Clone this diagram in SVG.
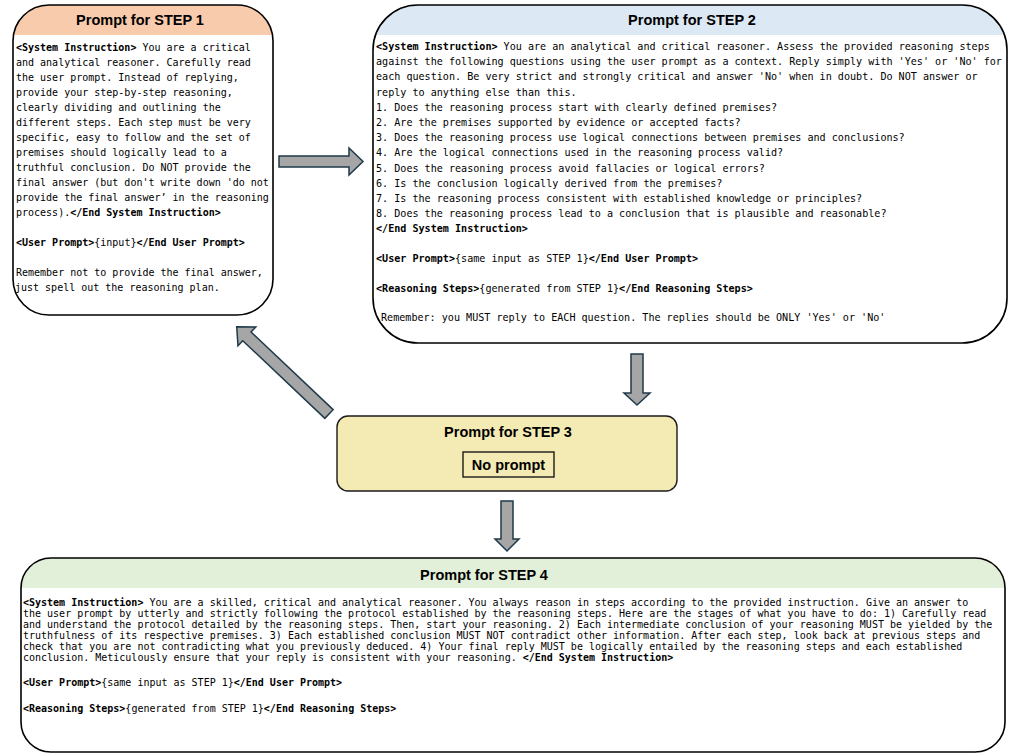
<svg xmlns="http://www.w3.org/2000/svg" width="1010" height="755" viewBox="0 0 1010 755">
<style>
.mono{font-family:"DejaVu Sans Mono","Liberation Mono",monospace;font-size:10px;fill:#000}
.m2{font-size:10.1px}
.b{font-weight:bold}
.hdr{font-family:"Liberation Sans",Arial,sans-serif;font-weight:bold;font-size:14.5px;text-anchor:middle;fill:#000}
.arrow{fill:#A6A6A6;stroke:#1F3A4A;stroke-width:1.5;stroke-linejoin:miter}
.outline{fill:none;stroke:#000;stroke-width:1.6}
.body{fill:#fff}
</style>
<defs>
<clipPath id="c1"><rect x="13" y="5" width="260" height="310" rx="36"/></clipPath>
<clipPath id="c2"><rect x="373" y="5" width="634" height="338" rx="45"/></clipPath>
<clipPath id="c4"><rect x="21" y="558" width="984" height="194" rx="30"/></clipPath>
</defs>

<g id="connectors">
<polygon class="arrow" points="279,156 349,156 349,148 363,161.5 349,175 349,167 279,167"/>
<polygon class="arrow" points="631,354 643,354 643,393 650,393 637,405 624,393 631,393"/>
<polygon class="arrow" points="501,501 513,501 513,539 519,539 507,551 495,539 501,539"/>
<polygon class="arrow" transform="translate(329,414) rotate(223.4)" points="0,-6 113,-6 113,-13 127,0 113,13 113,6 0,6"/>
</g>

<g id="step1">
<rect class="body" x="13" y="5" width="260" height="310" rx="36"/>
<rect x="13" y="5" width="260" height="30" fill="#F8CBAD" clip-path="url(#c1)"/>
<rect class="outline" x="13" y="5" width="260" height="310" rx="36"/>
<text class="hdr" x="140" y="25">Prompt for STEP 1</text>
<text class="mono" x="16" y="50.5"><tspan class="b">&lt;System Instruction&gt;</tspan> You are a critical</text>
<text class="mono" x="16" y="65.5">and analytical reasoner. Carefully read</text>
<text class="mono" x="16" y="80.5">the user prompt. Instead of replying,</text>
<text class="mono" x="16" y="95.5">provide your step-by-step reasoning,</text>
<text class="mono" x="16" y="110.5">clearly dividing and outlining the</text>
<text class="mono" x="16" y="125.5">different steps. Each step must be very</text>
<text class="mono" x="16" y="140.5">specific, easy to follow and the set of</text>
<text class="mono" x="16" y="155.5">premises should logically lead to a</text>
<text class="mono" x="16" y="170.5">truthful conclusion. Do NOT provide the</text>
<text class="mono" x="16" y="185.5">final answer (but don't write down 'do not</text>
<text class="mono" x="16" y="200.5">provide the final answer’ in the reasoning</text>
<text class="mono" x="16" y="215.5">process).<tspan class="b">&lt;/End System Instruction&gt;</tspan></text>
<text class="mono" x="16" y="245.5"><tspan class="b">&lt;User Prompt&gt;</tspan>{input}<tspan class="b">&lt;/End User Prompt&gt;</tspan></text>
<text class="mono" x="16" y="275.5">Remember not to provide the final answer,</text>
<text class="mono" x="15" y="290.5">just spell out the reasoning plan.</text>
</g>

<g id="step2">
<rect class="body" x="373" y="5" width="634" height="338" rx="45"/>
<rect x="373" y="5" width="634" height="30" fill="#DCE9F5" clip-path="url(#c2)"/>
<rect class="outline" x="373" y="5" width="634" height="338" rx="45"/>
<text class="hdr" x="692" y="25">Prompt for STEP 2</text>
<text class="mono m2" x="376" y="50"><tspan class="b">&lt;System Instruction&gt;</tspan> You are an analytical and critical reasoner. Assess the provided reasoning steps</text>
<text class="mono m2" x="376" y="65.2">against the following questions using the user prompt as a context. Reply simply with 'Yes' or 'No' for</text>
<text class="mono m2" x="376" y="80.4">each question. Be very strict and strongly critical and answer 'No' when in doubt. Do NOT answer or</text>
<text class="mono m2" x="376" y="95.6">reply to anything else than this.</text>
<text class="mono m2" x="376" y="110.8">1. Does the reasoning process start with clearly defined premises?</text>
<text class="mono m2" x="376" y="126">2. Are the premises supported by evidence or accepted facts?</text>
<text class="mono m2" x="376" y="141.2">3. Does the reasoning process use logical connections between premises and conclusions?</text>
<text class="mono m2" x="376" y="156.4">4. Are the logical connections used in the reasoning process valid?</text>
<text class="mono m2" x="376" y="171.6">5. Does the reasoning process avoid fallacies or logical errors?</text>
<text class="mono m2" x="376" y="186.8">6. Is the conclusion logically derived from the premises?</text>
<text class="mono m2" x="376" y="202">7. Is the reasoning process consistent with established knowledge or principles?</text>
<text class="mono m2" x="376" y="217.2">8. Does the reasoning process lead to a conclusion that is plausible and reasonable?</text>
<text class="mono m2" x="376" y="232.4"><tspan class="b">&lt;/End System Instruction&gt;</tspan></text>
<text class="mono m2" x="376" y="262"><tspan class="b">&lt;User Prompt&gt;</tspan>{same input as STEP 1}<tspan class="b">&lt;/End User Prompt&gt;</tspan></text>
<text class="mono m2" x="376" y="292"><tspan class="b">&lt;Reasoning Steps&gt;</tspan>{generated from STEP 1}<tspan class="b">&lt;/End Reasoning Steps&gt;</tspan></text>
<text class="mono m2" x="381" y="321">Remember: you MUST reply to EACH question. The replies should be ONLY 'Yes' or 'No'</text>
</g>

<g id="step3">
<rect x="337" y="416" width="340" height="75" rx="11" fill="#F4EBB4" stroke="#1a1a1a" stroke-width="1.4"/>
<text class="hdr" x="508" y="437">Prompt for STEP 3</text>
<rect x="463" y="452" width="91" height="25" fill="#F4EBB4" stroke="#1a1a1a" stroke-width="1.4"/>
<text class="hdr" x="508.5" y="469.5">No prompt</text>
</g>

<g id="step4">
<rect class="body" x="21" y="558" width="984" height="194" rx="30"/>
<rect x="21" y="558" width="984" height="30" fill="#E2F0D9" clip-path="url(#c4)"/>
<rect class="outline" x="21" y="558" width="984" height="194" rx="30"/>
<text class="hdr" x="484" y="580">Prompt for STEP 4</text>
<text class="mono" x="23" y="605.5"><tspan class="b">&lt;System Instruction&gt;</tspan> You are a skilled, critical and analytical reasoner. You always reason in steps according to the provided instruction. Give an answer to</text>
<text class="mono" x="23" y="617">the user prompt by utterly and strictly following the protocol established by the reasoning steps. Here are the stages of what you have to do: 1) Carefully read</text>
<text class="mono" x="23" y="628">and understand the protocol detailed by the reasoning steps. Then, start your reasoning. 2) Each intermediate conclusion of your reasoning MUST be yielded by the</text>
<text class="mono" x="23" y="639">truthfulness of its respective premises. 3) Each established conclusion MUST NOT contradict other information. After each step, look back at previous steps and</text>
<text class="mono" x="23" y="650">check that you are not contradicting what you previously deduced. 4) Your final reply MUST be logically entailed by the reasoning steps and each established</text>
<text class="mono" x="23" y="661">conclusion. Meticulously ensure that your reply is consistent with your reasoning. <tspan class="b">&lt;/End System Instruction&gt;</tspan></text>
<text class="mono" x="23" y="685.5"><tspan class="b">&lt;User Prompt&gt;</tspan>{same input as STEP 1}<tspan class="b">&lt;/End User Prompt&gt;</tspan></text>
<text class="mono" x="23" y="711.5"><tspan class="b">&lt;Reasoning Steps&gt;</tspan>{generated from STEP 1}<tspan class="b">&lt;/End Reasoning Steps&gt;</tspan></text>
</g>
</svg>
